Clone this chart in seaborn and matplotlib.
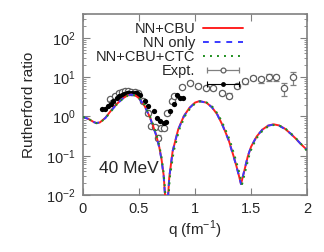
import matplotlib
matplotlib.use("Agg")
import matplotlib.pyplot as plt
import seaborn as sns
import pandas as pd
from matplotlib.lines import Line2D
from matplotlib.legend_handler import HandlerLine2D, HandlerTuple

# theory curves
q_theory = [0.0, 0.05, 0.10, 0.12, 0.15, 0.20, 0.25, 0.30, 0.35, 0.40, 0.43, 0.47,
            0.50, 0.55, 0.60, 0.65, 0.68, 0.70, 0.72, 0.735, 0.745, 0.755, 0.77,
            0.80, 0.85, 0.90, 0.95, 1.00, 1.04, 1.10, 1.15, 1.20, 1.25, 1.30,
            1.35, 1.38, 1.41, 1.44, 1.47, 1.50, 1.55, 1.60, 1.65, 1.70, 1.75,
            1.80, 1.85, 1.90, 1.95, 2.00]
nn_cbu = [0.97, 0.86, 0.71, 0.68, 0.70, 0.92, 1.40, 2.05, 2.80, 3.45, 3.60, 3.40,
          2.90, 1.85, 0.92, 0.36, 0.17, 0.085, 0.032, 0.008, 0.003, 0.006, 0.028,
          0.13, 0.47, 1.02, 1.65, 2.25, 2.45, 2.25, 1.72, 1.10, 0.56, 0.25,
          0.085, 0.042, 0.019, 0.042, 0.095, 0.17, 0.31, 0.46, 0.58, 0.63, 0.59,
          0.49, 0.37, 0.27, 0.19, 0.14]
nn_only = [0.97, 0.86, 0.71, 0.68, 0.70, 0.91, 1.38, 2.02, 2.77, 3.42, 3.58, 3.38,
           2.88, 1.83, 0.90, 0.35, 0.165, 0.082, 0.030, 0.007, 0.003, 0.006, 0.028,
           0.13, 0.46, 1.00, 1.63, 2.23, 2.43, 2.24, 1.71, 1.09, 0.55, 0.245,
           0.083, 0.041, 0.019, 0.043, 0.096, 0.17, 0.31, 0.46, 0.58, 0.62, 0.58,
           0.48, 0.37, 0.27, 0.19, 0.14]
q_ctc = [0.0, 0.05, 0.10, 0.12, 0.15, 0.20, 0.25, 0.30, 0.35, 0.40, 0.43, 0.47,
         0.50, 0.55, 0.60, 0.65, 0.68, 0.70, 0.72, 0.74, 0.75, 0.76, 0.775,
         0.81, 0.86, 0.91, 0.96, 1.01, 1.05, 1.11, 1.16, 1.21, 1.26, 1.31,
         1.36, 1.39, 1.42, 1.45, 1.48, 1.51, 1.56, 1.61, 1.66, 1.71, 1.76,
         1.81, 1.86, 1.91, 1.96, 2.00]
nn_cbu_ctc = [0.97, 0.86, 0.71, 0.67, 0.69, 0.89, 1.35, 1.98, 2.72, 3.38, 3.55, 3.40,
              2.95, 1.95, 0.98, 0.40, 0.19, 0.095, 0.036, 0.007, 0.003, 0.006, 0.028,
              0.13, 0.47, 1.02, 1.65, 2.25, 2.42, 2.22, 1.70, 1.08, 0.55, 0.25,
              0.085, 0.042, 0.019, 0.042, 0.094, 0.17, 0.31, 0.46, 0.57, 0.61, 0.57,
              0.48, 0.36, 0.26, 0.18, 0.13]

# experiment, open symbols
q_open = [0.24, 0.26, 0.29, 0.32, 0.35, 0.375, 0.40, 0.43, 0.46, 0.49, 0.54, 0.58,
          0.61, 0.64, 0.67, 0.70, 0.72, 0.75, 0.79, 0.81, 0.88, 0.955, 1.03, 1.10,
          1.16, 1.24, 1.30, 1.37, 1.45, 1.52, 1.59, 1.66, 1.72, 1.79, 1.87]
r_open = [2.7, 2.2, 3.4, 4.0, 4.3, 4.5, 4.4, 4.3, 4.2, 3.9, 2.4, 1.2,
          0.57, 0.55, 0.29, 0.52, 0.50, 1.2, 2.4, 3.3, 5.7, 7.2, 6.1, 5.4,
          5.2, 4.0, 3.4, 6.0, 7.8, 9.5, 8.7, 9.9, 9.8, 5.2, 10.0]
e_open = [0.25, 0.2, 0.3, 0.35, 0.35, 0.35, 0.35, 0.35, 0.35, 0.3, 0.2, 0.1,
          0.05, 0.05, 0.04, 0.05, 0.05, 0.1, 0.2, 0.3, 0.45, 0.6, 0.5, 0.45,
          0.45, 0.5, 0.5, 0.8, 1.0, 1.3, 1.6, 1.8, 1.8, 1.9, 3.8]

# experiment, filled symbols
q_full = [0.167, 0.196, 0.226, 0.25, 0.27, 0.30, 0.32, 0.345, 0.37, 0.39, 0.41,
          0.435, 0.46, 0.48, 0.51, 0.55, 0.58, 0.63, 0.66, 0.69, 0.72, 0.74,
          0.78, 0.81, 0.84, 0.87, 0.89]
r_full = [1.5, 1.57, 1.82, 2.1, 2.45, 2.97, 3.3, 3.6, 3.8, 3.9, 4.0,
          4.0, 4.0, 4.0, 3.6, 2.45, 1.8, 1.36, 0.93, 0.76, 0.69, 0.72,
          1.36, 2.1, 3.6, 3.0, 2.9]

df_theory = pd.DataFrame({"q": q_theory, "NN+CBU": nn_cbu, "NN only": nn_only})
df_ctc = pd.DataFrame({"q": q_ctc, "NN+CBU+CTC": nn_cbu_ctc})

sns.set_style("ticks")
plt.rcParams["font.family"] = ["Liberation Sans", "DejaVu Sans"]
plt.rcParams["mathtext.fontset"] = "custom"
plt.rcParams["mathtext.rm"] = "Liberation Sans"

fig = plt.figure(figsize=(3.24, 2.52), dpi=100)
ax = fig.add_axes([0.256, 0.226, 0.692, 0.718])

grey = "#808080"
red, blue, green = "#ff2020", "#3a3aff", "#1f8f1f"
dash = (0, (3, 3))
dots = (0, (1, 2.6))

ax.errorbar(q_open, r_open, yerr=e_open, fmt="o", ms=4.5, mfc="white", mec="#606060",
            mew=0.9, ecolor=grey, elinewidth=0.9, capsize=2.5, capthick=0.9, zorder=2)
ax.errorbar(q_full, r_full, yerr=[v * 0.05 for v in r_full], fmt="o", ms=3.8, mew=0,
            color="black", elinewidth=0.8, capsize=1.5, zorder=3)

sns.lineplot(data=df_theory, x="q", y="NN+CBU", ax=ax, color=red, lw=1.4, zorder=4)
sns.lineplot(data=df_theory, x="q", y="NN only", ax=ax, color=blue, lw=1.4,
             linestyle=dash, zorder=5)
sns.lineplot(data=df_ctc, x="q", y="NN+CBU+CTC", ax=ax, color=green, lw=1.4,
             linestyle=dots, zorder=6)

ax.set_yscale("log")
ax.set_xlim(0, 2)
ax.set_ylim(1e-2, 400)
ax.set_xticks([0, 0.5, 1, 1.5, 2])
ax.set_xticklabels(["0", "0.5", "1", "1.5", "2"])
ax.set_xlabel("q (fm$^{-1}$)", fontsize=11, labelpad=2)
ax.set_ylabel("Rutherford ratio", fontsize=11)
ax.yaxis.set_label_coords(-0.21, 0.5)
ax.tick_params(which="both", direction="in", top=True, right=True, color=grey,
               labelsize=10.5, pad=5)
ax.tick_params(which="major", length=5, width=0.8)
ax.tick_params(which="minor", length=2.5, width=0.6)
ax.tick_params(axis="x", which="minor", top=False, bottom=False)
for s in ax.spines.values():
    s.set_color(grey)
    s.set_linewidth(1.2)

ax.text(0.07, 0.12, "40 MeV", transform=ax.transAxes, fontsize=12.5)

# legend handles
h_red = Line2D([], [], color=red, lw=1.4)
h_blue = Line2D([], [], color=blue, lw=1.4, linestyle=dash)
h_green = Line2D([], [], color=green, lw=1.4, linestyle=dots)
cap_open = Line2D([], [], color=grey, lw=0.9, marker="|", ms=5, mew=0.9)
mk_open = Line2D([], [], ls="none", marker="o", ms=3.5, mfc="white", mec="#606060", mew=0.9)
cap_full = Line2D([], [], color="black", lw=0.8, marker="|", ms=5, mew=0.8)
mk_full = Line2D([], [], ls="none", marker="o", ms=3.5, mew=0, color="black")
leg = ax.legend([h_red, h_blue, h_green, (cap_open, mk_open), (cap_full, mk_full)],
                ["NN+CBU", "NN only", "NN+CBU+CTC", "Expt.", " "],
                loc="upper right", bbox_to_anchor=(0.716, 0.955), frameon=False,
                markerfirst=False, fontsize=10.5, handlelength=2.8, handletextpad=0.5,
                labelspacing=0.0, borderpad=0, borderaxespad=0,
                handler_map={cap_open: HandlerLine2D(numpoints=2),
                             cap_full: HandlerLine2D(numpoints=2),
                             tuple: HandlerTuple(ndivide=1, pad=0)})

fig.savefig("out.png", dpi=100)
